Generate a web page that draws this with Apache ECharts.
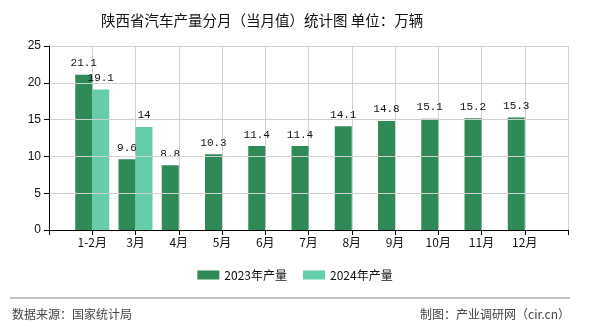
<!DOCTYPE html>
<html>
<head>
<meta charset="utf-8">
<script src="https://cdn.jsdelivr.net/npm/echarts@6/dist/echarts.min.js"></script>
<style>
  html, body { margin: 0; padding: 0; background: #fff; }
  #chart { width: 590px; height: 330px; }
</style>
</head>
<body>
<div id="chart"></div>
<script>
// Monthly production (current-month value), unit: 10k vehicles
const months = ['1-2月', '3月', '4月', '5月', '6月', '7月', '8月', '9月', '10月', '11月', '12月'];
const output2023 = [21.1, 9.6, 8.8, 10.3, 11.4, 11.4, 14.1, 14.8, 15.1, 15.2, 15.3];
const output2024 = [19.1, 14];
const yTicks = [0, 5, 10, 15, 20, 25];

// The x axis has an empty slot on each side so months sit on tick marks
const axisCats = [''].concat(months, ['']);
const pad = (arr) => [null].concat(months.map((_, i) => (i < arr.length ? arr[i] : null)), [null]);

const chart = echarts.init(document.getElementById('chart'), null, { renderer: 'canvas' });

const labelStyle = {
  show: true,
  position: 'top',
  distance: 6,
  color: '#111',
  fontFamily: 'Liberation Mono, monospace',
  fontSize: 11,
  formatter: (p) => (p.value == null ? '' : String(p.value))
};

chart.setOption({
  animation: false,
  backgroundColor: '#fff',
  title: {
    text: '陕西省汽车产量分月（当月值）统计图 单位：万辆',
    left: 96,
    top: 8,
    textStyle: { fontSize: 14.5, fontWeight: 'normal', color: '#111', fontFamily: 'Noto Sans CJK SC, sans-serif' }
  },
  legend: {
    bottom: 44,
    left: 'center',
    itemWidth: 22,
    itemHeight: 9,
    itemGap: 16,
    icon: 'rect',
    textStyle: { fontSize: 12, color: '#111', fontFamily: 'Noto Sans CJK SC, sans-serif' },
    data: ['2023年产量', '2024年产量']
  },
  grid: { left: 49, right: 22, top: 46, bottom: 100, containLabel: false },
  xAxis: [
    {
      type: 'category',
      data: axisCats,
      boundaryGap: false,
      axisLine: { lineStyle: { color: '#000' } },
      axisTick: { show: true, interval: 0, length: 5, lineStyle: { color: '#000' } },
      axisLabel: { interval: 0, color: '#111', fontSize: 12, margin: 6, fontFamily: 'Noto Sans CJK SC, sans-serif' },
      splitLine: { show: false },
      z: 3
    },
    {
      // vertical grid: one line per month slot
      type: 'value',
      min: 0,
      max: axisCats.length - 1,
      interval: 1,
      position: 'top',
      axisLine: { show: false },
      axisTick: { show: false },
      axisLabel: { show: false },
      splitLine: { show: true, lineStyle: { color: '#d0d0d0' } },
      z: 0
    }
  ],
  yAxis: {
    type: 'value',
    min: yTicks[0],
    max: yTicks[yTicks.length - 1],
    interval: 5,
    axisLine: { show: true, lineStyle: { color: '#000' } },
    axisTick: { show: true, length: 5, lineStyle: { color: '#000' } },
    axisLabel: { color: '#111', fontSize: 12, margin: 8, fontFamily: 'Liberation Sans, sans-serif' },
    splitLine: { show: true, lineStyle: { color: '#d0d0d0' } },
    z: 3
  },
  series: [
    {
      name: '2023年产量',
      type: 'bar',
      xAxisIndex: 0,
      data: pad(output2023),
      barWidth: 17,
      barGap: '0%',
      itemStyle: { color: '#2E8B57' },
      label: labelStyle
    },
    {
      name: '2024年产量',
      type: 'bar',
      xAxisIndex: 0,
      data: pad(output2024),
      barWidth: 17,
      barGap: '0%',
      itemStyle: { color: '#66CDAA' },
      label: labelStyle
    }
  ],
  graphic: [
    {
      type: 'line',
      shape: { x1: 10, y1: 298, x2: 570, y2: 298 },
      style: { stroke: '#888', lineWidth: 1 }
    },
    {
      type: 'text',
      left: 12,
      top: 308,
      style: { text: '数据来源：国家统计局', fill: '#444', fontSize: 12, fontFamily: 'Noto Sans CJK SC, sans-serif' }
    },
    {
      type: 'text',
      right: 20,
      top: 308,
      style: { text: '制图：产业调研网（cir.cn）', fill: '#444', fontSize: 12, fontFamily: 'Noto Sans CJK SC, sans-serif' }
    }
  ]
});
</script>
</body>
</html>
